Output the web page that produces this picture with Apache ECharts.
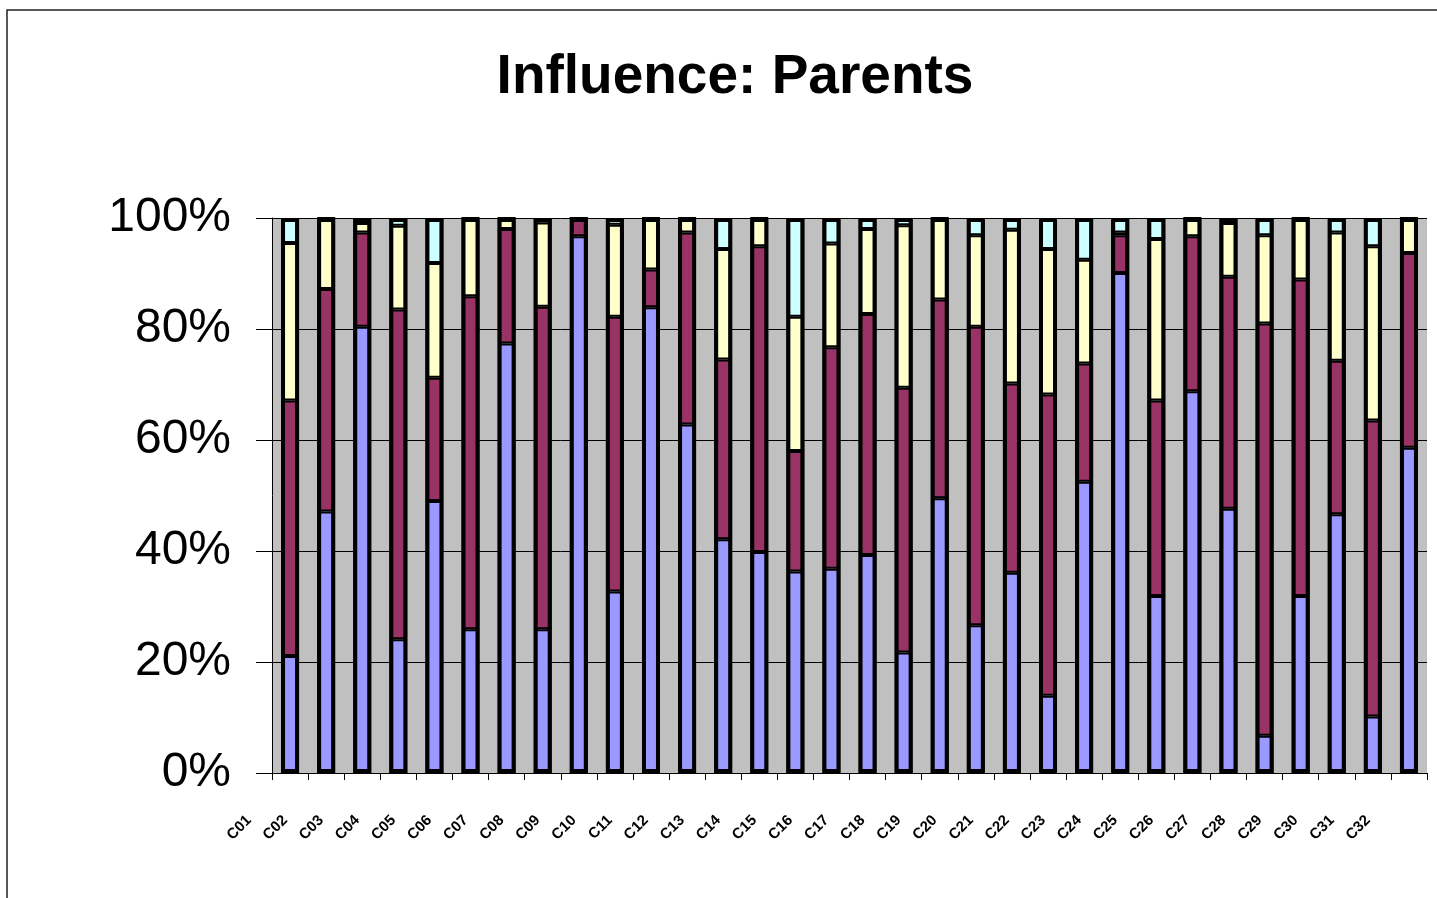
<!DOCTYPE html>
<html>
<head>
<meta charset="utf-8">
<title>Influence: Parents</title>
<script src="https://cdn.jsdelivr.net/npm/echarts@6/dist/echarts.min.js"></script>
<style>
  html, body { margin: 0; padding: 0; background: #fff; }
  #chart { width: 1437px; height: 898px; }
</style>
</head>
<body>
<div id="chart"></div>
<script>
// x-axis labels (the originals are illegible, short codes used)
const categories = ['C01', 'C02', 'C03', 'C04', 'C05', 'C06', 'C07', 'C08', 'C09', 'C10', 'C11', 'C12', 'C13', 'C14', 'C15', 'C16',
  'C17', 'C18', 'C19', 'C20', 'C21', 'C22', 'C23', 'C24', 'C25', 'C26', 'C27', 'C28', 'C29', 'C30', 'C31', 'C32']

// share of each answer, in %
const blueVals = [21.1, 47.1, 80.4, 24.1, 49.0, 25.9, 77.4, 25.9, 96.7, 32.7, 83.9, 62.8, 42.1, 39.8, 36.3, 36.8,
  39.3, 21.7, 49.5, 26.6, 36.1, 13.9, 52.5, 90.1, 31.9, 68.8, 47.6, 6.7, 31.9, 46.6, 10.2, 58.6]
const maroonVals = [46.0, 40.1, 17.0, 59.4, 22.2, 60.0, 20.6, 58.1, 3.3, 49.5, 6.8, 34.6, 32.4, 55.1, 21.7, 39.9,
  43.4, 47.7, 35.8, 53.8, 34.1, 54.3, 21.3, 6.8, 35.2, 27.9, 41.8, 74.3, 57.0, 27.7, 53.3, 35.1]
const yellowVals = [28.4, 12.8, 1.7, 15.1, 20.7, 14.1, 2.0, 15.2, 0, 16.6, 9.3, 2.6, 19.9, 5.1, 24.2, 18.7,
  15.3, 29.3, 14.7, 16.5, 27.7, 26.2, 18.7, 0.5, 29.1, 3.3, 9.7, 15.9, 11.1, 23.1, 31.4, 6.3]
const cyanVals = [4.5, 0, 0.9, 1.4, 8.1, 0, 0, 0.8, 0, 1.2, 0, 0, 5.6, 0, 17.8, 4.6,
  2.0, 1.3, 0, 3.1, 2.1, 5.6, 7.5, 2.6, 3.8, 0, 0.9, 3.1, 0, 2.6, 5.1, 0]

const seriesNames = ['Series1', 'Series2', 'Series3', 'Series4']
const seriesColors = ['#9999ff', '#993366', '#ffffcc', '#ccffff']

// column totals, used for the outline drawn over each column
const totals = blueVals.map((v, i) => v + maroonVals[i] + yellowVals[i] + cyanVals[i])

const chart = echarts.init(document.getElementById('chart'))

const makeSeries = (name, data, color) => ({
  name: name,
  type: 'bar',
  stack: 'total',
  barWidth: 18,
  barGap: '-100%',
  data: data,
  itemStyle: {
    color: color,
    borderColor: '#000',
    borderWidth: 2
  }
})

const option = {
  backgroundColor: '#fff',
  animation: false,
  textStyle: { fontFamily: 'Liberation Sans, Arial, sans-serif' },
  title: {
    text: 'Influence: Parents',
    left: 730,
    top: 45,
    textAlign: 'center',
    textStyle: {
      fontFamily: 'Liberation Sans, Arial, sans-serif',
      fontSize: 55,
      fontWeight: 'bold',
      color: '#000'
    }
  },
  // outer frame of the chart
  graphic: [
    {
      type: 'rect',
      shape: { x: 7, y: 10, width: 1450, height: 900 },
      style: { fill: 'none', stroke: '#222', lineWidth: 1.5 },
      silent: true
    }
  ],
  grid: {
    left: 272,
    right: 10,
    top: 218,
    bottom: 125,
    show: true,
    backgroundColor: '#c0c0c0',
    borderWidth: 0
  },
  xAxis: {
    type: 'category',
    data: categories,
    axisLine: { lineStyle: { color: '#000', width: 1 } },
    axisTick: { show: true, length: 7, lineStyle: { color: '#000' } },
    axisLabel: {
      interval: 0,
      rotate: 45,
      fontSize: 15,
      fontWeight: 'bold',
      color: '#000',
      margin: 4,
      padding: [0, 58, 0, 0]
    }
  },
  yAxis: {
    type: 'value',
    min: 0,
    max: 100,
    interval: 20,
    axisLine: { show: true, lineStyle: { color: '#000', width: 1 } },
    axisTick: { show: true, inside: false, length: 16, lineStyle: { color: '#000' } },
    splitLine: { show: true, lineStyle: { color: '#000', width: 1 } },
    axisLabel: {
      formatter: '{value}%',
      fontSize: 48,
      color: '#000',
      margin: 41
    }
  },
  series: [
    makeSeries(seriesNames[0], blueVals, seriesColors[0]),
    makeSeries(seriesNames[1], maroonVals, seriesColors[1]),
    makeSeries(seriesNames[2], yellowVals, seriesColors[2]),
    makeSeries(seriesNames[3], cyanVals, seriesColors[3]),
    {
      name: 'outline',
      type: 'bar',
      barWidth: 18,
      barGap: '-100%',
      data: totals,
      silent: true,
      itemStyle: {
        color: 'rgba(0,0,0,0)',
        borderColor: '#000',
        borderWidth: 4
      }
    }
  ]
}

chart.setOption(option)
</script>
</body>
</html>
